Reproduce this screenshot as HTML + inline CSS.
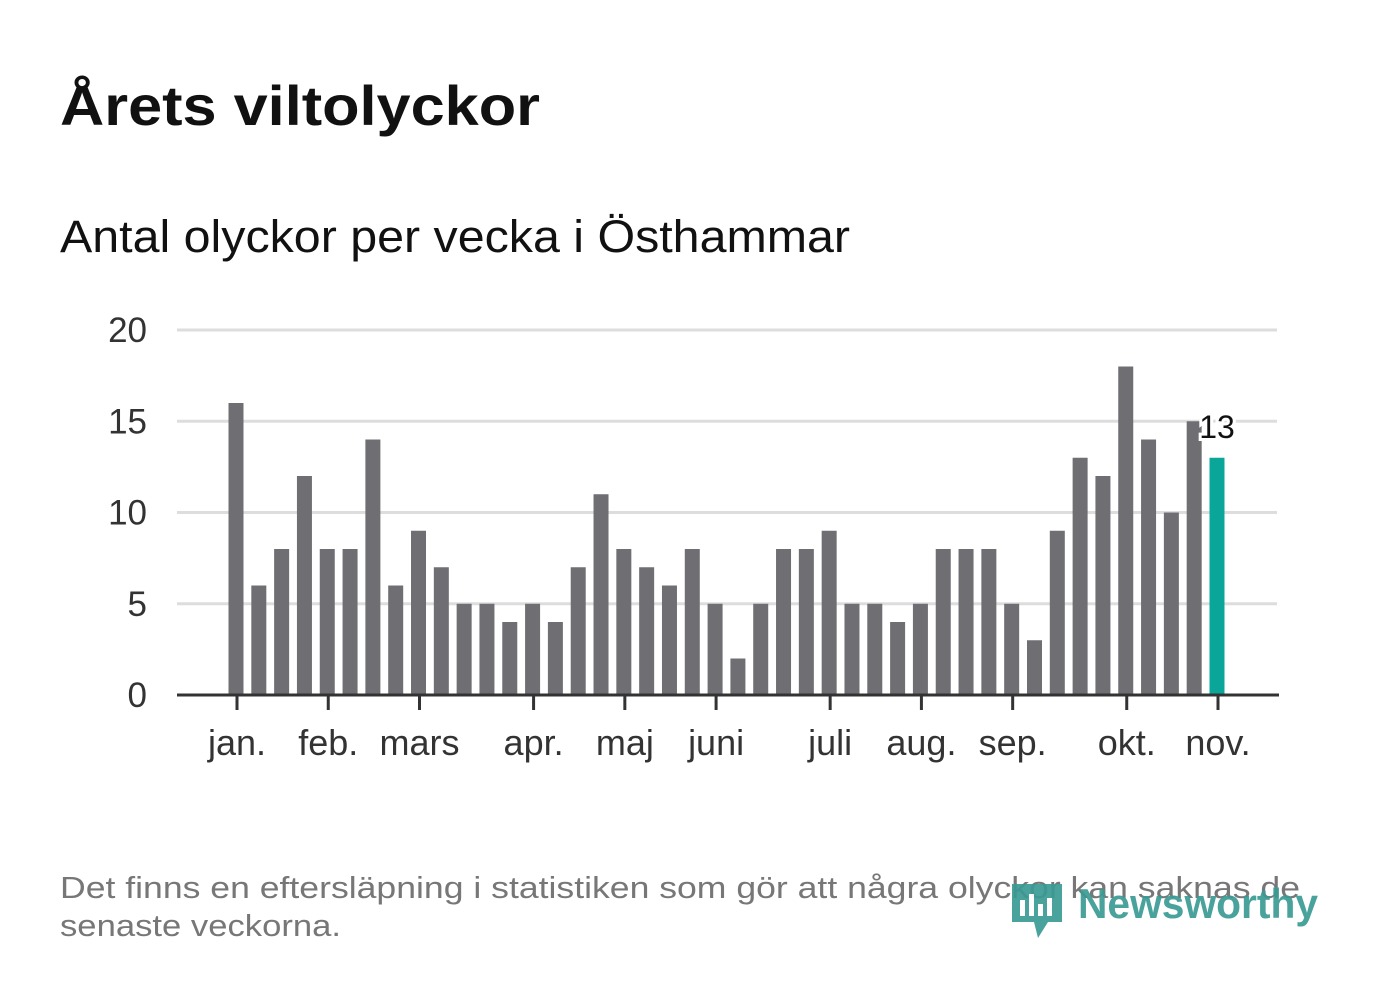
<!DOCTYPE html>
<html><head><meta charset="utf-8">
<style>
body{margin:0;background:#fff;width:1382px;height:999px;overflow:hidden;font-family:"Liberation Sans",sans-serif}
</style></head>
<body>
<svg width="1382" height="999" xmlns="http://www.w3.org/2000/svg">
<text x="60" y="125" font-size="56" font-weight="bold" fill="#111" textLength="480" lengthAdjust="spacingAndGlyphs">Årets viltolyckor</text>
<text x="60" y="252" font-size="45" fill="#111" textLength="790" lengthAdjust="spacingAndGlyphs">Antal olyckor per vecka i Östhammar</text>
<g id="grid"></g>
<g id="bars"></g>
<g id="xaxis"></g>
<text x="60" y="898" font-size="31" fill="#777" textLength="1240" lengthAdjust="spacingAndGlyphs">Det finns en eftersläpning i statistiken som gör att några olyckor kan saknas de</text>
<text x="60" y="936" font-size="31" fill="#777" textLength="281" lengthAdjust="spacingAndGlyphs">senaste veckorna.</text>
<g opacity="0.92">
<path d="M1012 884 h50 v38 h-14 l-10 16 l-4 -16 h-22 z" fill="#3a9b94"/>
<rect x="1020" y="900" width="5" height="16" fill="#fff"/><rect x="1029" y="894" width="5" height="22" fill="#fff"/><rect x="1038" y="904" width="5" height="12" fill="#fff"/><rect x="1047" y="898" width="5" height="18" fill="#fff"/>
<text x="1078" y="918" font-size="42" font-weight="bold" fill="#3a9b94" textLength="240" lengthAdjust="spacingAndGlyphs">Newsworthy</text>
</g>
</svg>
<script>
const values=[16,6,8,12,8,8,14,6,9,7,5,5,4,5,4,7,11,8,7,6,8,5,2,5,8,8,9,5,5,4,5,8,8,8,5,3,9,13,12,18,14,10,15,13];
const monthLabels=["jan.","feb.","mars","apr.","maj","juni","juli","aug.","sep.","okt.","nov."];
const monthIdx=[0,4,8,13,17,21,26,30,34,39,43];
const yTicks=[0,5,10,15,20];
const NS="http://www.w3.org/2000/svg";
const x=i=>236+i*(1217-236)/43;
const y=v=>695-v*(365/20);
function mk(t,a,p){const e=document.createElementNS(NS,t);for(const k in a)e.setAttribute(k,a[k]);p.appendChild(e);return e;}
const grid=document.getElementById('grid'),bars=document.getElementById('bars'),xa=document.getElementById('xaxis');
yTicks.forEach(t=>{
 if(t>0){const l=mk('line',{x1:177,x2:1277,y1:y(t),y2:y(t),stroke:'#ddd','stroke-width':3},grid);
 
 }
 const tx=mk('text',{x:147,y:y(t)+12,'font-size':35,fill:'#333','text-anchor':'end'},grid);tx.textContent=t;
 
 
});
values.forEach((v,i)=>{
 const last=i===values.length-1;
 const r=mk('rect',{x:x(i)-7.5,y:y(v),width:15,height:695-y(v),fill:last?'#0aa69a':'#6f6e73'},bars);
 
 
 if(last){const t=mk('text',{x:x(i),y:y(v)-20,'font-size':32,fill:'#111','text-anchor':'middle',stroke:'#fff','stroke-width':6,'paint-order':'stroke'},bars);t.textContent=v;
 
 }
});
const base=mk('line',{x1:177,x2:1279,y1:695,y2:695,stroke:'#333','stroke-width':3},xa);


monthIdx.forEach((m,k)=>{
 mk('line',{x1:x(m)+1,x2:x(m)+1,y1:695,y2:710,stroke:'#333','stroke-width':3},xa);
 const t=mk('text',{x:x(m)+1,y:755,'font-size':36,fill:'#333','text-anchor':'middle'},xa);t.textContent=monthLabels[k];
 
 
});
</script>
</body></html>
